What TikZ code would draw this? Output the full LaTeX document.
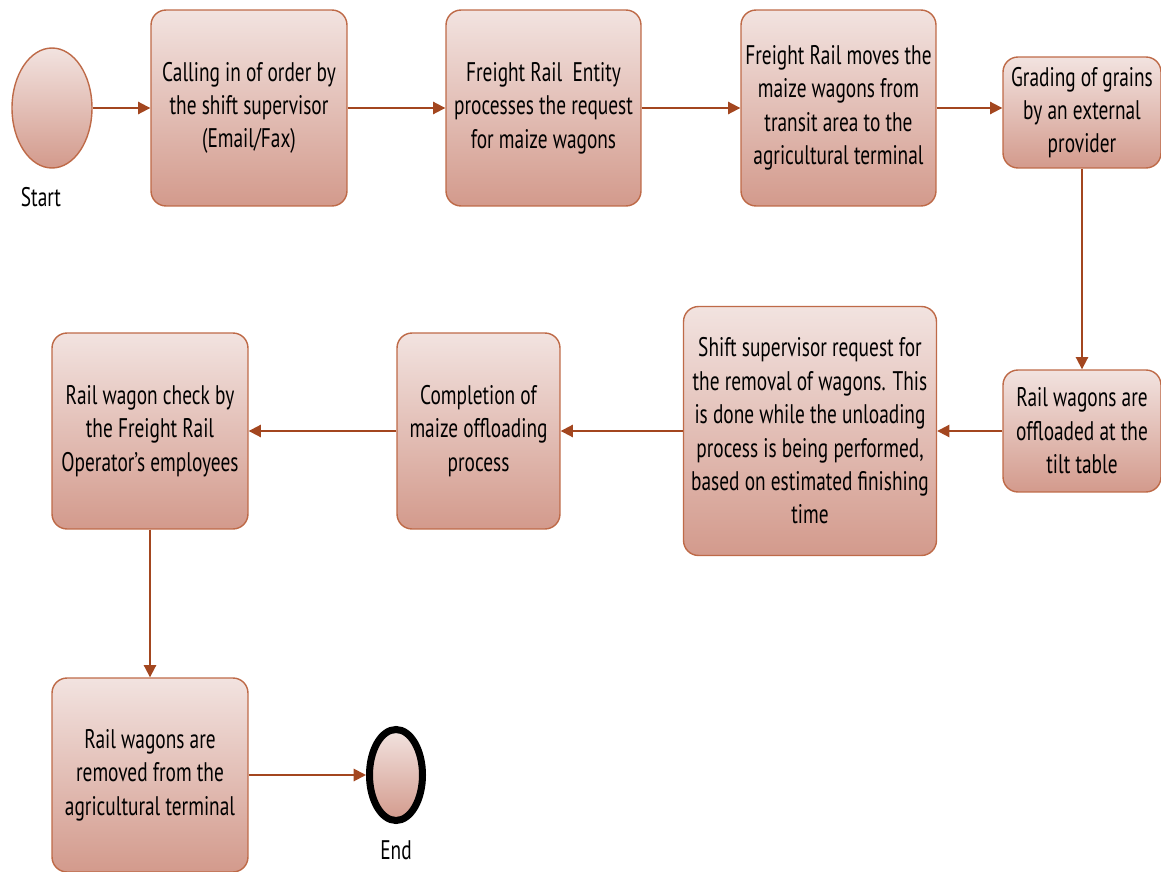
\documentclass[tikz,border=0pt]{standalone}
\usepackage{fontspec}
\setmainfont{PT Sans}[FakeStretch=0.72]
\definecolor{FLtop}{HTML}{F2E3E0}
\definecolor{FLbottom}{HTML}{D39A8C}
\definecolor{FLedge}{HTML}{BE6A48}
\definecolor{FLarrow}{HTML}{A3461F}
\usetikzlibrary{shapes.geometric, arrows.meta, positioning}

\begin{document}
\begin{tikzpicture}[x=0.02cm, y=-0.02cm,
      step box/.style={draw=FLedge, line width=0.8pt, rounded corners=0.3cm,
         top color=FLtop, bottom color=FLbottom, align=center,
         font=\fontsize{15.3}{19}\selectfont, inner sep=2pt},
      terminal/.style={ellipse, draw=FLedge, line width=0.8pt,
         top color=FLtop, bottom color=FLbottom, inner sep=0pt},
      flow/.style={-{Triangle[length=7pt, width=7pt]}, FLarrow, line width=1.1pt},
      lbl/.style={font=\fontsize{15.3}{19}\selectfont}]
   \useasboundingbox (0,0) rectangle (1161,872);
   % Start
   \node[terminal, minimum width=1.6cm, minimum height=2.4cm] (start) at (52,108) {};
   \node[lbl] (startlbl) at (41,197) {Start};
   % top row
   \node[step box, minimum width=3.92cm, minimum height=3.92cm] (order) at (249,108)
      {Calling in of order by\\the shift supervisor\\(Email/Fax)};
   \node[step box, minimum width=3.9cm, minimum height=3.92cm] (entity) at (543.5,108)
      {Freight Rail\ \ Entity\\processes the request\\for maize wagons};
   \node[step box, minimum width=3.9cm, minimum height=3.92cm] (moves) at (838.5,108)
      {Freight Rail moves the\\maize wagons from\\transit area to the\\agricultural terminal};
   \node[step box, minimum width=3.16cm, minimum height=2.22cm] (grading) at (1082,112.5)
      {Grading of grains\\by an external\\provider};
   % middle row
   \node[step box, minimum width=3.16cm, minimum height=2.44cm] (tilt) at (1082,431)
      {Rail wagons are\\offloaded at the\\tilt table};
   \node[step box, minimum width=5.06cm, minimum height=4.98cm] (removal) at (810,431)
      {Shift supervisor request for\\the removal of wagons. This\\is done while the unloading\\process is being performed,\\based on estimated finishing\\time};
   \node[step box, minimum width=3.26cm, minimum height=3.92cm] (complete) at (478.5,431)
      {Completion of\\maize offloading\\process};
   \node[step box, minimum width=3.92cm, minimum height=3.92cm] (check) at (150,431)
      {Rail wagon check by\\the Freight Rail\\Operator’s employees};
   % bottom row
   \node[step box, minimum width=3.92cm, minimum height=3.88cm] (removed) at (150,775)
      {Rail wagons are\\removed from the\\agricultural terminal};
   \node[terminal, draw=black, line width=4pt, minimum width=1.06cm, minimum height=1.82cm] (end) at (396,775) {};
   \node[lbl] (endlbl) at (396,850) {End};
   % connectors
   \draw[flow] (start) -- (order);
   \draw[flow] (order) -- (entity);
   \draw[flow] (entity) -- (moves);
   \draw[flow] (moves.east) -- (moves.east -| grading.west);
   \draw[flow] (grading) -- (tilt);
   \draw[flow] (tilt) -- (removal);
   \draw[flow] (removal) -- (complete);
   \draw[flow] (complete) -- (check);
   \draw[flow] (check) -- (removed);
   \draw[flow] (removed) -- (end);
\end{tikzpicture}
\end{document}
